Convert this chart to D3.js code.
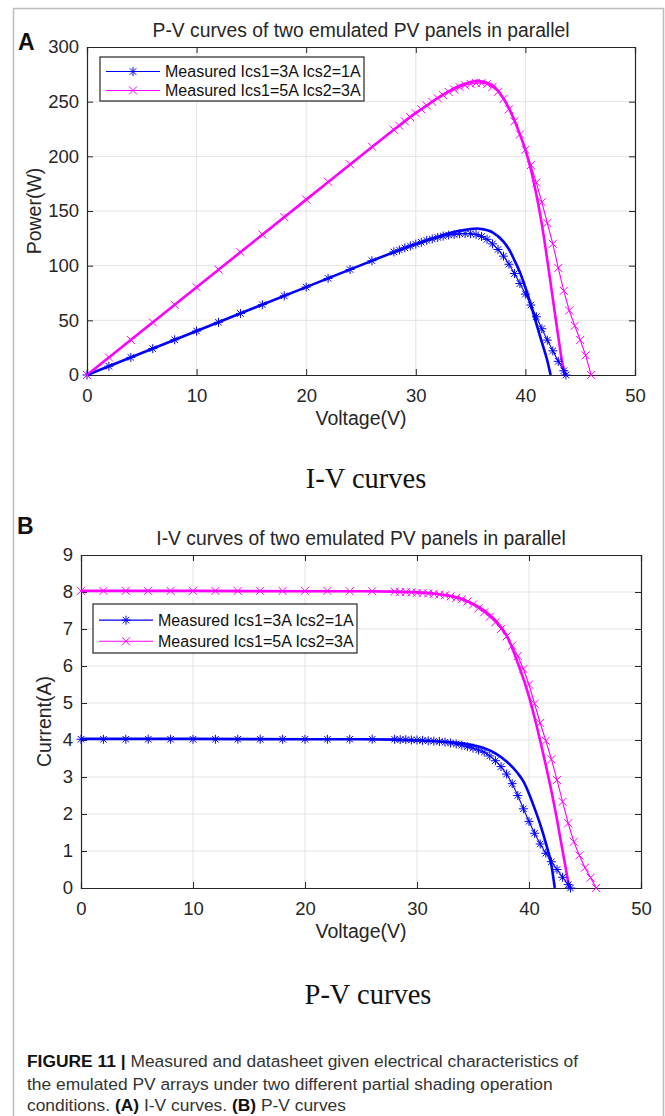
<!DOCTYPE html>
<html>
<head>
<meta charset="utf-8">
<script src="https://cdn.jsdelivr.net/npm/d3@7"></script>
<style>
body { margin: 0; background: #fff; }
svg text { font-family: "Liberation Sans", Arial, sans-serif; }
</style>
</head>
<body>
<div id="canvas"></div>
<script>
var width = 665,
	height = 1116;

// measured voltages (same sweep used for I and P)
var measV1 = [0, 2, 4, 6, 8, 10, 12, 14, 16, 18, 20, 22, 24, 26,
	28, 28.5, 29, 29.5, 30, 30.5, 31, 31.5, 32, 32.5, 33, 33.5, 34, 34.5, 35, 35.5,
	36, 36.5, 37, 37.5, 38, 38.5, 39, 39.5, 40, 40.5, 41, 41.5, 42, 42.5, 43, 43.5, 43.7];
var measI1 = [4.02, 4.02, 4.02, 4.02, 4.02, 4.02, 4.02, 4.02, 4.02, 4.02, 4.02, 4.02, 4.02, 4.02,
	4.02, 4.01, 4.01, 4.0, 4.0, 3.99, 3.98, 3.97, 3.96, 3.94, 3.92, 3.89, 3.86, 3.82, 3.78, 3.73,
	3.67, 3.57, 3.44, 3.28, 3.08, 2.82, 2.5, 2.14, 1.8, 1.48, 1.19, 0.94, 0.71, 0.5, 0.29, 0.09, 0];
var measP1 = [0, 8, 16.1, 24.1, 32.2, 40.2, 48.2, 56.3, 64.3, 72.4, 80.4, 88.4, 96.5, 104.5,
	112.6, 114.3, 116.3, 118.0, 119.7, 121.4, 123.1, 124.4, 125.8, 127.1, 128.0, 128.6, 129.2, 129.4, 129.2, 128.5,
	126.7, 124.1, 119.9, 114.8, 108.7, 101.3, 92.8, 83.7, 74.0, 64.0, 53.3, 42.3, 31.9, 22.1, 12.5, 3.9, 0];

var measV2 = [0, 2, 4, 6, 8, 10, 12, 14, 16, 18, 20, 22, 24, 26,
	28, 28.5, 29, 29.5, 30, 30.5, 31, 31.5, 32, 32.5, 33, 33.5, 34, 34.5, 35, 35.5,
	36, 36.5, 37, 37.5, 38, 38.5, 39, 39.5, 40, 40.5, 41, 41.5, 42, 42.5, 43, 43.5,
	44, 44.5, 45, 45.5, 46];
var measI2 = [8.03, 8.03, 8.03, 8.03, 8.03, 8.03, 8.03, 8.03, 8.03, 8.03, 8.03, 8.03, 8.02, 8.02,
	8.01, 8.0, 8.0, 7.99, 7.98, 7.97, 7.96, 7.95, 7.93, 7.91, 7.88, 7.84, 7.8, 7.74, 7.66, 7.56,
	7.45, 7.33, 7.18, 7.0, 6.8, 6.55, 6.27, 5.92, 5.5, 4.98, 4.46, 3.98, 3.48, 2.92, 2.33, 1.75,
	1.25, 0.88, 0.55, 0.28, 0];
var measP2 = [0, 16.1, 32.1, 48.2, 64.2, 80.3, 96.4, 112.4, 128.5, 144.5, 160.6, 176.7, 192.7, 208.8,
	224.3, 228, 232, 235.7, 239.4, 243.1, 246.5, 249.8, 253, 256, 258.8, 261.2, 263.3, 265, 266.2, 267,
	267, 266, 263.5, 259, 252.5, 243, 232, 220, 206, 192, 176, 158, 139, 120, 98, 77,
	59, 45, 32, 18, 0];

// datasheet curves (thick lines, no legend entry)
var sheetIV_V1 = [0, 10, 20, 25, 28, 30, 31, 32, 33, 34, 35, 36, 37, 38, 39, 39.5, 40, 40.5, 41, 41.5, 42, 42.3];
var sheetIV_I1 = [4.03, 4.03, 4.02, 4.02, 4.01, 3.99, 3.98, 3.96, 3.94, 3.91, 3.86, 3.78, 3.64, 3.42, 3.1, 2.88, 2.55, 2.15, 1.72, 1.22, 0.62, 0];
var sheetIV_V2 = [0, 10, 20, 25, 28, 30, 31, 32, 33, 34, 35, 36, 37, 38, 39, 39.5, 40, 40.5, 41, 41.5, 42, 42.5, 43, 43.3, 43.6];
var sheetIV_I2 = [8.03, 8.03, 8.02, 8.02, 8.01, 7.99, 7.97, 7.94, 7.89, 7.81, 7.68, 7.5, 7.23, 6.83, 6.08, 5.65, 5.17, 4.6, 3.98, 3.32, 2.62, 1.85, 1.0, 0.5, 0];

var sheetPV_V1 = [0, 10, 20, 25, 28, 30, 32, 33, 34, 35, 35.6, 36, 37, 38, 38.5, 39, 39.5, 40, 40.5, 41, 41.5, 42, 42.3];
var sheetPV_P1 = [0, 40.3, 80.4, 100.5, 112.3, 119.7, 126.5, 129.5, 132, 133.6, 134, 133.5, 130.5, 122, 115, 105, 94, 80, 64, 47, 30, 13, 0];
var sheetPV_V2 = [0, 10, 20, 25, 28, 30, 31, 32, 33, 34, 35, 35.6, 36, 37, 38, 39, 39.5, 40, 40.5, 41, 41.5, 42, 42.5, 43, 43.3, 43.6];
var sheetPV_P2 = [0, 80.3, 160.4, 200.5, 224.3, 239.7, 246.5, 253.5, 259.5, 264.5, 268, 269, 268.5, 265, 253, 233, 220, 206, 188, 165, 138, 105, 70, 35, 15, 0];

var legendLabels = ['Measured Ics1=3A Ics2=1A', 'Measured Ics1=5A Ics2=3A'];
var colors = ['#0000ff', '#ff00ff'];
var xTicks = [0, 10, 20, 30, 40, 50];
var powerTicks = [0, 50, 100, 150, 200, 250, 300];
var currentTicks = [0, 1, 2, 3, 4, 5, 6, 7, 8, 9];

var svg = d3.select('#canvas')
	.append('svg')
	.attr('width', width)
	.attr('height', height);

// figure frame
svg.append('path')
	.attr('d', 'M13.5,' + height + 'V8.5H663.5V' + height)
	.attr('fill', 'none')
	.attr('stroke', '#bdbdbd')
	.attr('stroke-width', 1.5);

function zip(xs, ys) {
	return xs.map(function(v, i) { return [v, ys[i]]; });
}

function asterisk(r) {
	var d = r * 0.72;
	return 'M' + (-r) + ',0H' + r + 'M0,' + (-r) + 'V' + r +
		'M' + (-d) + ',' + (-d) + 'L' + d + ',' + d + 'M' + (-d) + ',' + d + 'L' + d + ',' + (-d);
}
function cross(r) {
	return 'M' + (-r) + ',' + (-r) + 'L' + r + ',' + r + 'M' + (-r) + ',' + r + 'L' + r + ',' + (-r);
}
var markers = [asterisk(4.5), cross(4)];

function panel(p) {
	var g = svg.append('g');
	var x = d3.scaleLinear().domain([0, 50]).range([p.left, p.right]);
	var y = d3.scaleLinear().domain(p.yDomain).range([p.bottom, p.top]);

	// grid
	g.selectAll('.gx').data(xTicks.slice(1, -1)).enter().append('line')
		.attr('x1', x).attr('x2', x).attr('y1', p.top).attr('y2', p.bottom)
		.attr('stroke', '#e3e3e3').attr('stroke-width', 1);
	g.selectAll('.gy').data(p.yTicks.slice(1, -1)).enter().append('line')
		.attr('y1', y).attr('y2', y).attr('x1', p.left).attr('x2', p.right)
		.attr('stroke', '#e3e3e3').attr('stroke-width', 1);

	// axes (ticks inward, box on)
	var ax = [
		d3.axisBottom(x).tickValues(xTicks).tickSize(-6).tickPadding(14),
		d3.axisTop(x).tickValues(xTicks).tickSize(-6).tickFormat(''),
		d3.axisLeft(y).tickValues(p.yTicks).tickSize(-6).tickPadding(8),
		d3.axisRight(y).tickValues(p.yTicks).tickSize(-6).tickFormat('')
	];
	var tr = ['translate(0,' + p.bottom + ')', 'translate(0,' + p.top + ')',
		'translate(' + p.left + ',0)', 'translate(' + p.right + ',0)'];
	ax.forEach(function(a, i) {
		var ga = g.append('g').attr('transform', tr[i]).call(a);
		ga.select('.domain').attr('stroke', '#262626').attr('stroke-width', 1.2);
		ga.selectAll('.tick line').attr('stroke', '#262626').attr('stroke-width', 1);
		ga.selectAll('text').attr('fill', '#262626')
			.style('font-size', '18.5px').style('font-family', '"Liberation Sans", Arial, sans-serif');
	});

	var thick = d3.line().curve(d3.curveMonotoneX)
		.x(function(d) { return x(d[0]); }).y(function(d) { return y(d[1]); });
	var thin = d3.line()
		.x(function(d) { return x(d[0]); }).y(function(d) { return y(d[1]); });

	var plot = g.append('g');
	p.sheet.forEach(function(s, i) {
		plot.append('path').attr('d', thick(s))
			.attr('fill', 'none').attr('stroke', colors[i]).attr('stroke-width', 2.6);
	});
	p.meas.forEach(function(s, i) {
		plot.append('path').attr('d', thin(s))
			.attr('fill', 'none').attr('stroke', colors[i]).attr('stroke-width', 1.1);
		plot.selectAll('.m' + i).data(s).enter().append('path')
			.attr('transform', function(d) { return 'translate(' + x(d[0]) + ',' + y(d[1]) + ')'; })
			.attr('d', markers[i])
			.attr('fill', 'none').attr('stroke', colors[i]).attr('stroke-width', 1);
	});

	// title and labels
	g.append('text').attr('x', (p.left + p.right) / 2).attr('y', p.top - 10)
		.attr('text-anchor', 'middle').attr('fill', '#262626')
		.style('font-size', '19.3px').text(p.title);
	g.append('text').attr('x', (p.left + p.right) / 2).attr('y', p.bottom + 50)
		.attr('text-anchor', 'middle').attr('fill', '#262626')
		.style('font-size', '19.5px').text('Voltage(V)');
	g.append('text')
		.attr('transform', 'translate(' + p.yLabelX + ',' + (p.top + p.bottom) / 2 + ') rotate(-90)')
		.attr('text-anchor', 'middle').attr('fill', '#262626')
		.style('font-size', '19.5px').text(p.yLabel);
	g.append('text').attr('x', p.letterX).attr('y', p.letterY)
		.attr('fill', '#111').style('font-weight', 'bold').style('font-size', '23px').text(p.letter);

	// legend
	var lg = g.append('g').attr('transform', 'translate(' + p.legend[0] + ',' + p.legend[1] + ')');
	lg.append('rect').attr('width', p.legend[2]).attr('height', p.legend[3])
		.attr('fill', '#fff').attr('stroke', '#262626').attr('stroke-width', 1.2);
	legendLabels.forEach(function(t, i) {
		var ry = p.legend[3] * (i === 0 ? 0.33 : 0.76);
		lg.append('line').attr('x1', 6).attr('x2', 60).attr('y1', ry).attr('y2', ry)
			.attr('stroke', colors[i]).attr('stroke-width', 1.1);
		lg.append('path').attr('transform', 'translate(33,' + ry + ')').attr('d', markers[i])
			.attr('fill', 'none').attr('stroke', colors[i]).attr('stroke-width', 1);
		lg.append('text').attr('x', 65).attr('y', ry + 5.5).attr('fill', '#111')
			.style('font-size', '16px').text(t);
	});
}

panel({
	left: 87, right: 635, top: 47, bottom: 375,
	yDomain: [0, 300], yTicks: powerTicks,
	title: 'P-V curves of two emulated PV panels in parallel',
	yLabel: 'Power(W)', yLabelX: 41,
	letter: 'A', letterX: 18, letterY: 50,
	legend: [100, 57, 264, 44],
	sheet: [zip(sheetPV_V1, sheetPV_P1), zip(sheetPV_V2, sheetPV_P2)],
	meas: [zip(measV1, measP1), zip(measV2, measP2)]
});

panel({
	left: 81, right: 641, top: 555, bottom: 888,
	yDomain: [0, 9], yTicks: currentTicks,
	title: 'I-V curves of two emulated PV panels in parallel',
	yLabel: 'Current(A)', yLabelX: 51,
	letter: 'B', letterX: 17, letterY: 534,
	legend: [93, 604, 264, 49],
	sheet: [zip(sheetIV_V1, sheetIV_I1), zip(sheetIV_V2, sheetIV_I2)],
	meas: [zip(measV1, measI1), zip(measV2, measI2)]
});

// sub captions (serif, as in the source figure)
svg.append('text').attr('x', 366).attr('y', 488).attr('text-anchor', 'middle')
	.attr('fill', '#111').style('font-family', '"Liberation Serif", "Times New Roman", serif')
	.style('font-size', '28.5px').text('I-V curves');
svg.append('text').attr('x', 368).attr('y', 1004).attr('text-anchor', 'middle')
	.attr('fill', '#111').style('font-family', '"Liberation Serif", "Times New Roman", serif')
	.style('font-size', '28.5px').text('P-V curves');

// figure caption
var cap = svg.append('g').attr('fill', '#333').style('font-size', '17.4px');
var l1 = cap.append('text').attr('x', 27).attr('y', 1067);
l1.append('tspan').style('font-weight', 'bold').attr('fill', '#111').text('FIGURE 11 | ');
l1.append('tspan').text('Measured and datasheet given electrical characteristics of');
cap.append('text').attr('x', 27).attr('y', 1090)
	.text('the emulated PV arrays under two different partial shading operation');
var l3 = cap.append('text').attr('x', 27).attr('y', 1111);
l3.append('tspan').text('conditions. ');
l3.append('tspan').style('font-weight', 'bold').attr('fill', '#111').text('(A)');
l3.append('tspan').text(' I-V curves. ');
l3.append('tspan').style('font-weight', 'bold').attr('fill', '#111').text('(B)');
l3.append('tspan').text(' P-V curves');
</script>
</body>
</html>
